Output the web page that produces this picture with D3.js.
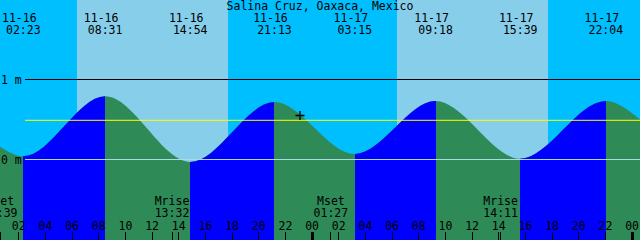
<!DOCTYPE html>
<html>
<head>
<meta charset="utf-8">
<script src="https://cdn.jsdelivr.net/npm/d3@7"></script>
<style>
  body { margin: 0; background: #00bfff; }
  svg { display: block; }
  text { font-family: 'DejaVu Sans Mono', monospace; font-size: 11.5px; fill: #000; }
</style>
</head>
<body>
<script>
const title = 'Salina Cruz, Oaxaca, Mexico'

// high / low tides (local time, metres)
const tideTimes = ['11-16 02:23', '11-16 08:31', '11-16 14:54', '11-16 21:13',
  '11-17 03:15', '11-17 09:18', '11-17 15:39', '11-17 22:04']
const tideLevels = [0.04, 0.79, -0.03, 0.72, 0.07, 0.73, 0.01, 0.73]

// window edges and the level the curve has there
const windowTimes = ['11-16 00:38', '11-18 00:38']
const windowLevels = [0.16, 0.50]

const sunrise = ['11-16 06:24', '11-17 06:24']
const sunset = ['11-16 17:44', '11-17 17:44']

const moonLabels = ['Mset', 'Mrise', 'Mset', 'Mrise']
const moonTimes = ['11-16 00:39', '11-16 13:32', '11-17 01:27', '11-17 14:11']

const levelTicks = [0, 1]
const meanLevel = 0.49
const nowTime = '11-16 23:08'
const nowLevel = 0.55

const width = 640
const height = 240

const parse = d3.utcParse('%Y-%m-%d %H:%M')
const t = (s) => parse('2023-' + s)

const x = d3.scaleUtc().domain(windowTimes.map(t)).range([0, width])
const y = d3.scaleLinear().domain([0, 1]).range([159.5, 79.5])

const points = [{time: t(windowTimes[0]), level: windowLevels[0]}]
  .concat(tideTimes.map((s, i) => ({time: t(s), level: tideLevels[i]})))
  .concat([{time: t(windowTimes[1]), level: windowLevels[1]}])

const svg = d3.select('body').append('svg')
    .attr('width', width)
    .attr('height', height)

// sky: night everywhere, day between sunrise and sunset
svg.append('rect')
    .attr('width', width)
    .attr('height', height)
    .attr('fill', '#00bfff')

svg.selectAll('.day')
  .data(sunrise)
  .enter().append('rect')
    .attr('class', 'day')
    .attr('x', (d) => x(t(d)))
    .attr('width', (d, i) => x(t(sunset[i])) - x(t(d)))
    .attr('height', height)
    .attr('fill', '#87ceeb')
    .attr('shape-rendering', 'crispEdges')

// water: ebb colour, with flood parts clipped to the same area
const area = d3.area()
  .x((d) => x(d.time))
  .y0(height)
  .y1((d) => y(d.level))
  .curve(d3.curveMonotoneX)

svg.append('clipPath')
    .attr('id', 'water')
  .append('path')
    .datum(points)
    .attr('d', area)

svg.append('path')
    .datum(points)
    .attr('d', area)
    .attr('fill', '#2e8b57')

const rising = d3.pairs(points).filter(([a, b]) => b.level > a.level)

svg.append('g')
    .attr('clip-path', 'url(#water)')
  .selectAll('rect')
  .data(rising)
  .enter().append('rect')
    .attr('x', ([a]) => x(a.time))
    .attr('width', ([a, b]) => x(b.time) - x(a.time))
    .attr('height', height)
    .attr('fill', '#0000ff')
    .attr('shape-rendering', 'crispEdges')

// level lines
svg.selectAll('.level')
  .data(levelTicks)
  .enter().append('line')
    .attr('class', 'level')
    .attr('x1', 25)
    .attr('x2', width)
    .attr('y1', (d) => y(d))
    .attr('y2', (d) => y(d))
    .attr('stroke', (d) => d === 0 ? '#add8e6' : '#000')

svg.selectAll('.level-label')
  .data(levelTicks)
  .enter().append('text')
    .attr('x', 1)
    .attr('y', (d) => y(d) + 4)
    .text((d) => `${d} m`)

svg.append('line')
    .attr('x1', 25)
    .attr('x2', width)
    .attr('y1', y(meanLevel))
    .attr('y2', y(meanLevel))
    .attr('stroke', '#ffff00')

// current time mark
svg.append('path')
    .attr('transform', `translate(${x(t(nowTime))}, ${y(nowLevel)})`)
    .attr('d', 'M-4.5,0H4.5M0,-4.5V4.5')
    .attr('stroke', '#000')
    .attr('stroke-width', 1.3)

// title and tide labels
svg.append('text')
    .attr('x', width / 2)
    .attr('y', 10)
    .attr('text-anchor', 'middle')
    .text(title)

const tideLabel = svg.selectAll('.tide')
  .data(tideTimes)
  .enter().append('g')
    .attr('class', 'tide')
    .attr('transform', (d) => `translate(${x(t(d))}, 0)`)

tideLabel.append('text')
    .attr('x', -4)
    .attr('y', 22)
    .attr('text-anchor', 'middle')
    .text((d) => d.slice(0, 5))

tideLabel.append('text')
    .attr('y', 34)
    .attr('text-anchor', 'middle')
    .text((d) => d.slice(6))

// moon rise / set
const moon = svg.selectAll('.moon')
  .data(moonTimes)
  .enter().append('g')
    .attr('class', 'moon')
    .attr('transform', (d) => `translate(${x(t(d))}, 0)`)

moon.append('text')
    .attr('y', 205)
    .attr('text-anchor', 'middle')
    .text((d, i) => moonLabels[i])

moon.append('text')
    .attr('y', 217)
    .attr('text-anchor', 'middle')
    .text((d) => d.slice(6))

moon.append('line')
    .attr('y1', 232)
    .attr('y2', height)
    .attr('stroke', '#000')
    .attr('shape-rendering', 'crispEdges')

// hour axis along the bottom
const axis = svg.append('g')
    .attr('transform', `translate(0, ${height})`)
    .call(d3.axisTop(x)
      .ticks(d3.utcHour.every(2))
      .tickSize(8)
      .tickPadding(2)
      .tickFormat(d3.utcFormat('%H')))

axis.select('.domain').remove()
axis.selectAll('.tick line')
    .attr('stroke-width', (d) => d.getUTCHours() === 0 ? 3 : 1)
    .attr('shape-rendering', 'crispEdges')
</script>
</body>
</html>
